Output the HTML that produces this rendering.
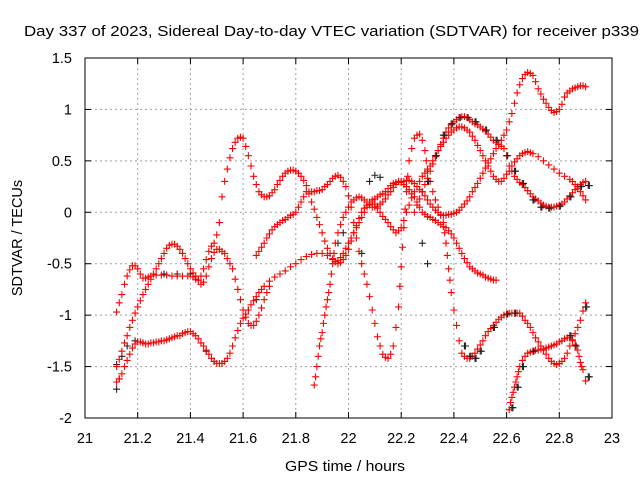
<!DOCTYPE html>
<html><head><meta charset="utf-8"><style>
body{margin:0;background:#fff;}
svg{display:block;font-family:"Liberation Sans",sans-serif;}
</style></head><body>
<svg id="chart" width="640" height="480" viewBox="0 0 640 480" xmlns="http://www.w3.org/2000/svg">
<rect width="640" height="480" fill="#fff"/>
<text x="24" y="36" font-size="14.5" fill="#000" textLength="615" lengthAdjust="spacingAndGlyphs">Day 337 of 2023, Sidereal Day-to-day VTEC variation (SDTVAR) for receiver p339</text>
<text x="345" y="471" font-size="14.5" text-anchor="middle" textLength="120" lengthAdjust="spacingAndGlyphs">GPS time / hours</text>
<text x="0" y="0" font-size="14.5" text-anchor="middle" transform="translate(22,238) rotate(-90)">SDTVAR / TECUs</text>
<g id="grid"></g>
<g id="axes"></g>
<g id="marks"></g>
<rect x="85" y="58" width="527" height="360" fill="none" stroke="#000" stroke-width="1"/>
</svg>
<script>
const xTicks=[21,21.2,21.4,21.6,21.8,22,22.2,22.4,22.6,22.8,23];
const xTickLabels=["21","21.2","21.4","21.6","21.8","22","22.2","22.4","22.6","22.8","23"];
const yTicks=[1.5,1,0.5,0,-0.5,-1,-1.5,-2];
const yTickLabels=["1.5","1","0.5","0","-0.5","-1","-1.5","-2"];
const red1=[[21.12,-1.65],[21.13,-1.62],[21.14,-1.57],[21.15,-1.5],[21.16,-1.44],[21.17,-1.38],[21.18,-1.32],[21.19,-1.28],[21.2,-1.26],[21.21,-1.26],[21.22,-1.27],[21.23,-1.28],[21.24,-1.28],[21.25,-1.27],[21.26,-1.27],[21.27,-1.26],[21.28,-1.26],[21.29,-1.25],[21.3,-1.25],[21.31,-1.24],[21.32,-1.23],[21.33,-1.22],[21.34,-1.21],[21.35,-1.2],[21.36,-1.2],[21.37,-1.18],[21.38,-1.17],[21.39,-1.16],[21.4,-1.16],[21.41,-1.18],[21.42,-1.2],[21.43,-1.23],[21.44,-1.27],[21.45,-1.3],[21.46,-1.34],[21.47,-1.38],[21.48,-1.42],[21.49,-1.45],[21.5,-1.47],[21.51,-1.47],[21.52,-1.47],[21.53,-1.45],[21.54,-1.42],[21.55,-1.37],[21.56,-1.3],[21.57,-1.22],[21.58,-1.15],[21.59,-1.08],[21.6,-1.03],[21.61,-0.99],[21.62,-0.95],[21.63,-0.9],[21.64,-0.86],[21.65,-0.82],[21.66,-0.78],[21.67,-0.75],[21.68,-0.72],[21.7,-0.67],[21.72,-0.63],[21.74,-0.6],[21.76,-0.57],[21.78,-0.53],[21.8,-0.5],[21.82,-0.46],[21.84,-0.43],[21.86,-0.41],[21.88,-0.4],[21.9,-0.4],[21.92,-0.42],[21.94,-0.46],[21.95,-0.48],[21.96,-0.47],[21.97,-0.44],[21.98,-0.4],[21.99,-0.35],[22.0,-0.3],[22.01,-0.25],[22.02,-0.2],[22.03,-0.15],[22.04,-0.1],[22.05,-0.05],[22.06,0.0],[22.07,0.05],[22.08,0.08],[22.09,0.1],[22.1,0.08],[22.11,0.04],[22.12,0.0],[22.13,-0.04],[22.14,-0.07],[22.15,-0.1],[22.16,-0.14],[22.17,-0.17],[22.18,-0.2],[22.19,-0.18],[22.2,-0.15],[22.21,-0.08],[22.22,0.0],[22.23,0.07],[22.24,0.14],[22.25,0.2],[22.26,0.25],[22.27,0.3],[22.28,0.35],[22.29,0.38],[22.3,0.42],[22.31,0.45],[22.32,0.5],[22.33,0.55],[22.34,0.6],[22.35,0.64],[22.36,0.68],[22.37,0.72],[22.38,0.75],[22.39,0.78],[22.4,0.8],[22.41,0.82],[22.42,0.83],[22.43,0.83],[22.44,0.82],[22.45,0.8],[22.46,0.78],[22.47,0.74],[22.48,0.7],[22.49,0.65],[22.5,0.6],[22.51,0.55],[22.52,0.5],[22.53,0.45],[22.54,0.4],[22.55,0.35],[22.56,0.32],[22.57,0.3],[22.58,0.3],[22.59,0.33],[22.6,0.37],[22.61,0.4],[22.62,0.45],[22.63,0.49],[22.64,0.52],[22.65,0.55],[22.66,0.57],[22.67,0.58],[22.68,0.59],[22.69,0.58],[22.7,0.57],[22.72,0.54],[22.74,0.5],[22.76,0.46],[22.78,0.42],[22.8,0.38],[22.82,0.35],[22.84,0.32],[22.85,0.3],[22.86,0.27],[22.87,0.23],[22.88,0.2],[22.89,0.16],[22.9,0.12]];
const red2=[[21.12,-0.97],[21.13,-0.88],[21.14,-0.8],[21.15,-0.7],[21.16,-0.62],[21.17,-0.56],[21.18,-0.52],[21.19,-0.52],[21.2,-0.55],[21.21,-0.6],[21.22,-0.64],[21.23,-0.64],[21.24,-0.63],[21.25,-0.62],[21.27,-0.61],[21.29,-0.61],[21.31,-0.61],[21.33,-0.62],[21.35,-0.62],[21.37,-0.62],[21.39,-0.62],[21.41,-0.63],[21.42,-0.65],[21.43,-0.66],[21.44,-0.62],[21.45,-0.55],[21.46,-0.46],[21.47,-0.38],[21.48,-0.33],[21.49,-0.3],[21.5,-0.22],[21.51,-0.1],[21.52,0.15],[21.53,0.3],[21.54,0.42],[21.55,0.53],[21.56,0.62],[21.57,0.68],[21.58,0.72],[21.59,0.73],[21.6,0.72],[21.61,0.64],[21.62,0.55],[21.63,0.45],[21.64,0.35],[21.65,0.27],[21.66,0.2],[21.67,0.17],[21.68,0.15],[21.69,0.15],[21.7,0.16],[21.71,0.19],[21.72,0.22],[21.73,0.27],[21.74,0.31],[21.75,0.35],[21.76,0.38],[21.77,0.4],[21.78,0.41],[21.79,0.41],[21.8,0.4],[21.81,0.38],[21.82,0.35],[21.83,0.31],[21.84,0.26],[21.85,0.18],[21.86,0.1],[21.87,0.03],[21.88,-0.05],[21.89,-0.12],[21.9,-0.2],[21.91,-0.28],[21.92,-0.35],[21.93,-0.4],[21.94,-0.45],[21.95,-0.48],[21.96,-0.5],[21.97,-0.49],[21.98,-0.46],[21.99,-0.42],[22.0,-0.36],[22.01,-0.28],[22.02,-0.2],[22.03,-0.13],[22.04,-0.06],[22.05,0.0],[22.06,0.04],[22.07,0.07],[22.08,0.1],[22.09,0.12],[22.1,0.13],[22.11,0.15],[22.12,0.17],[22.13,0.18],[22.14,0.2],[22.15,0.23],[22.16,0.26],[22.17,0.28],[22.18,0.29],[22.19,0.3],[22.2,0.3],[22.21,0.3],[22.22,0.31],[22.23,0.31],[22.24,0.3],[22.25,0.28],[22.26,0.25],[22.27,0.22],[22.28,0.2],[22.29,0.16],[22.3,0.12],[22.31,0.08],[22.32,0.05],[22.33,0.02],[22.34,0.0],[22.35,-0.03],[22.36,-0.03],[22.37,-0.03],[22.38,-0.02],[22.39,-0.02],[22.4,-0.01],[22.41,0.0],[22.42,0.02],[22.43,0.05],[22.44,0.08],[22.45,0.11],[22.46,0.15],[22.47,0.2],[22.48,0.24],[22.49,0.28],[22.5,0.33],[22.51,0.38],[22.52,0.43],[22.53,0.48],[22.54,0.52],[22.55,0.57],[22.56,0.62],[22.57,0.66],[22.58,0.7],[22.59,0.75],[22.6,0.8],[22.61,0.88],[22.62,0.96],[22.63,1.06],[22.64,1.16],[22.65,1.24],[22.66,1.3],[22.67,1.34],[22.68,1.36],[22.69,1.35],[22.7,1.33],[22.71,1.27],[22.72,1.2],[22.73,1.15],[22.74,1.1],[22.75,1.06],[22.76,1.02],[22.77,0.99],[22.78,0.97],[22.79,0.98],[22.8,1.0],[22.81,1.05],[22.82,1.12],[22.83,1.16],[22.84,1.18],[22.85,1.2],[22.86,1.21],[22.87,1.22],[22.88,1.23],[22.89,1.23],[22.9,1.22]];
const red3=[[21.12,-1.5],[21.13,-1.43],[21.14,-1.35],[21.15,-1.27],[21.16,-1.2],[21.17,-1.12],[21.18,-1.05],[21.19,-0.98],[21.2,-0.92],[21.21,-0.86],[21.22,-0.8],[21.23,-0.75],[21.24,-0.7],[21.25,-0.65],[21.26,-0.6],[21.27,-0.55],[21.28,-0.5],[21.29,-0.45],[21.3,-0.4],[21.31,-0.35],[21.32,-0.32],[21.33,-0.31],[21.34,-0.31],[21.35,-0.33],[21.36,-0.36],[21.37,-0.4],[21.38,-0.45],[21.39,-0.5],[21.4,-0.55],[21.41,-0.59],[21.42,-0.62],[21.43,-0.66],[21.44,-0.7],[21.45,-0.68],[21.46,-0.62],[21.47,-0.53],[21.48,-0.45],[21.49,-0.39],[21.5,-0.36],[21.51,-0.36],[21.52,-0.38],[21.53,-0.4],[21.54,-0.45],[21.55,-0.5],[21.56,-0.55],[21.57,-0.65],[21.58,-0.75],[21.59,-0.85],[21.6,-0.95],[21.61,-1.02],[21.62,-1.08],[21.63,-1.1],[21.64,-1.1],[21.65,-1.06],[21.66,-1.0],[21.67,-0.93],[21.68,-0.85],[21.69,-0.78],[21.7,-0.72]];
const red4=[[21.65,-0.42],[21.66,-0.38],[21.67,-0.34],[21.68,-0.3],[21.69,-0.25],[21.7,-0.21],[21.71,-0.17],[21.72,-0.14],[21.73,-0.12],[21.74,-0.1],[21.75,-0.08],[21.76,-0.07],[21.77,-0.05],[21.78,-0.03],[21.79,-0.02],[21.8,0.0],[21.81,0.05],[21.82,0.1],[21.83,0.15],[21.84,0.2],[21.85,0.2],[21.86,0.2],[21.87,0.2],[21.88,0.21],[21.89,0.21],[21.9,0.22],[21.91,0.25],[21.92,0.27],[21.93,0.3],[21.94,0.33],[21.95,0.35],[21.96,0.36],[21.97,0.34],[21.98,0.3],[21.99,0.25],[22.0,0.16],[22.01,0.05],[22.02,-0.1],[22.03,-0.25],[22.04,-0.38],[22.05,-0.5],[22.06,-0.6],[22.07,-0.7],[22.08,-0.82],[22.09,-0.95],[22.1,-1.08],[22.11,-1.21],[22.12,-1.3],[22.13,-1.38],[22.14,-1.41],[22.15,-1.42],[22.16,-1.38],[22.17,-1.3],[22.18,-1.12],[22.19,-0.92],[22.195,-0.72],[22.2,-0.53],[22.205,-0.34],[22.21,-0.15],[22.215,0.03],[22.22,0.2],[22.225,0.35],[22.23,0.5],[22.24,0.62],[22.25,0.72],[22.26,0.75],[22.27,0.76],[22.28,0.7],[22.29,0.6],[22.295,0.5],[22.3,0.4],[22.31,0.3],[22.32,0.2],[22.33,0.12],[22.34,0.05],[22.35,-0.02],[22.36,-0.1],[22.365,-0.2],[22.37,-0.3],[22.375,-0.42],[22.38,-0.55],[22.385,-0.66],[22.39,-0.78],[22.4,-0.95],[22.41,-1.1],[22.42,-1.25],[22.43,-1.37],[22.44,-1.4],[22.45,-1.42],[22.46,-1.42],[22.47,-1.4],[22.48,-1.37],[22.49,-1.33],[22.5,-1.29],[22.51,-1.25],[22.52,-1.2],[22.53,-1.16],[22.54,-1.13],[22.55,-1.1],[22.56,-1.07],[22.57,-1.04],[22.58,-1.02],[22.59,-1.0],[22.6,-0.99],[22.61,-0.98],[22.62,-0.98],[22.63,-0.98],[22.64,-0.98],[22.65,-0.98],[22.66,-1.01],[22.67,-1.05],[22.68,-1.08],[22.69,-1.12],[22.7,-1.17],[22.71,-1.22],[22.72,-1.26],[22.73,-1.3],[22.74,-1.34],[22.75,-1.38],[22.76,-1.42],[22.77,-1.45],[22.78,-1.47],[22.79,-1.48],[22.8,-1.47],[22.81,-1.45],[22.82,-1.42],[22.83,-1.37],[22.84,-1.3],[22.85,-1.24],[22.86,-1.18],[22.87,-1.12],[22.88,-1.05],[22.89,-0.96],[22.9,-0.88]];
const red5=[[21.87,-1.68],[21.875,-1.6],[21.88,-1.5],[21.885,-1.4],[21.89,-1.3],[21.895,-1.23],[21.9,-1.17],[21.905,-1.08],[21.91,-1.0],[21.915,-0.92],[21.92,-0.85],[21.925,-0.78],[21.93,-0.7],[21.935,-0.6],[21.94,-0.5],[21.945,-0.4],[21.95,-0.3],[21.96,-0.2],[21.97,-0.12],[21.98,-0.05],[21.99,0.0],[22.0,0.05],[22.01,0.1],[22.02,0.12],[22.03,0.14],[22.04,0.15],[22.05,0.14],[22.06,0.12],[22.07,0.1],[22.08,0.07],[22.09,0.05],[22.1,0.05],[22.11,0.06],[22.12,0.08],[22.13,0.1],[22.14,0.13],[22.15,0.17],[22.16,0.2],[22.17,0.24],[22.18,0.27],[22.19,0.3],[22.2,0.29],[22.21,0.27],[22.22,0.25],[22.23,0.22],[22.24,0.18],[22.25,0.15],[22.26,0.1],[22.27,0.05],[22.28,0.0],[22.29,-0.02],[22.3,-0.04],[22.31,-0.05],[22.32,-0.07],[22.33,-0.08],[22.34,-0.1],[22.35,-0.12],[22.36,-0.14],[22.37,-0.15],[22.38,-0.18],[22.39,-0.21],[22.4,-0.25],[22.41,-0.3],[22.42,-0.35],[22.43,-0.4],[22.44,-0.45],[22.45,-0.49],[22.46,-0.53],[22.47,-0.55],[22.48,-0.57],[22.49,-0.59],[22.5,-0.6],[22.51,-0.61],[22.52,-0.63],[22.53,-0.64],[22.54,-0.65],[22.55,-0.66],[22.56,-0.66]];
const red6=[[22.61,-1.92],[22.615,-1.85],[22.62,-1.8],[22.625,-1.75],[22.63,-1.7],[22.635,-1.65],[22.64,-1.6],[22.645,-1.55],[22.65,-1.5],[22.66,-1.44],[22.67,-1.4],[22.68,-1.37],[22.69,-1.36],[22.7,-1.35],[22.71,-1.34],[22.72,-1.34],[22.73,-1.33],[22.74,-1.33],[22.75,-1.32],[22.76,-1.31],[22.77,-1.3],[22.78,-1.29],[22.79,-1.28],[22.8,-1.26],[22.81,-1.25],[22.82,-1.23],[22.83,-1.22],[22.84,-1.22],[22.85,-1.25],[22.86,-1.29],[22.87,-1.34],[22.875,-1.4],[22.88,-1.46],[22.885,-1.5],[22.89,-1.53],[22.9,-1.64]];
const red7=[[22.25,0.0],[22.26,0.07],[22.27,0.13],[22.28,0.2],[22.29,0.27],[22.3,0.33],[22.31,0.4],[22.32,0.47],[22.33,0.54],[22.34,0.6],[22.35,0.66],[22.36,0.72],[22.37,0.78],[22.38,0.82],[22.39,0.85],[22.4,0.88],[22.41,0.9],[22.42,0.92],[22.43,0.93],[22.44,0.93],[22.45,0.92],[22.46,0.9],[22.47,0.88],[22.48,0.86],[22.49,0.85],[22.5,0.83],[22.51,0.81],[22.52,0.79],[22.53,0.76],[22.54,0.73],[22.55,0.7],[22.56,0.68],[22.57,0.66],[22.58,0.64],[22.59,0.62],[22.6,0.55],[22.61,0.45],[22.62,0.4],[22.63,0.35],[22.64,0.32],[22.65,0.29],[22.66,0.27],[22.67,0.24],[22.68,0.21],[22.69,0.18],[22.7,0.15],[22.71,0.13],[22.72,0.11],[22.73,0.09],[22.74,0.07],[22.75,0.06],[22.76,0.05],[22.77,0.05],[22.78,0.05],[22.79,0.06],[22.8,0.07],[22.81,0.08],[22.82,0.1],[22.83,0.13],[22.84,0.16],[22.85,0.19],[22.86,0.22],[22.87,0.25],[22.88,0.27],[22.89,0.29],[22.9,0.3]];
const black1=[[22.3,0.3],[22.33,0.55],[22.36,0.75],[22.39,0.86],[22.42,0.92],[22.45,0.92],[22.48,0.88],[22.52,0.8],[22.56,0.7],[22.6,0.55],[22.63,0.4],[22.66,0.28],[22.7,0.12],[22.73,0.05],[22.76,0.04],[22.8,0.06],[22.84,0.15],[22.88,0.25],[22.91,0.26]];
const black2=[[21.12,-1.72],[21.13,-1.62],[21.12,-1.48],[21.14,-1.4],[21.16,-1.3],[21.19,-1.25],[21.22,-1.27],[21.46,-1.35],[21.49,-1.45],[21.52,-1.47],[21.62,-0.95],[21.65,-0.85],[21.3,-0.6],[21.35,-0.6],[21.4,-0.6]];
const black3=[[22.44,-1.3],[22.46,-1.4],[22.48,-1.42],[22.5,-1.35],[22.55,-1.12],[22.6,-0.99],[22.63,-0.98],[22.62,-1.9],[22.64,-1.7],[22.66,-1.5],[22.7,-1.35],[22.84,-1.2],[22.86,-1.3],[22.9,-0.92],[22.91,-1.6]];
const black4=[[22.08,0.3],[22.1,0.36],[22.12,0.34],[22.28,-0.3],[22.3,-0.5],[22.05,-0.4],[22.15,0.2],[21.96,-0.3],[21.98,-0.2]];
const xMin=21,xMax=23,yMin=-2,yMax=1.5,L=85,R=612,T=58,B=418;
function sx(v){return L+(v-xMin)/(xMax-xMin)*(R-L);}
function sy(v){return B-(v-yMin)/(yMax-yMin)*(B-T);}
const NS="http://www.w3.org/2000/svg";
const grid=document.getElementById('grid'),axes=document.getElementById('axes'),marks=document.getElementById('marks');
function mk(tag,attrs,parent){const e=document.createElementNS(NS,tag);for(const k in attrs)e.setAttribute(k,attrs[k]);parent.appendChild(e);return e;}
xTicks.forEach((t,i)=>{const x=sx(t);
 if(i>0&&i<xTicks.length-1){const g=mk('line',{x1:x,y1:T,x2:x,y2:B,stroke:'#a0a0a0','stroke-dasharray':'2,3'},grid);}
 mk('line',{x1:x,y1:B,x2:x,y2:B-6,stroke:'#000'},axes);mk('line',{x1:x,y1:T,x2:x,y2:T+6,stroke:'#000'},axes);
 const tx=mk('text',{x:x,y:443,'font-size':'14.5','text-anchor':'middle'},axes);tx.textContent=xTickLabels[i];
 
 });
yTicks.forEach((t,i)=>{const y=sy(t);
 if(i>0&&i<yTicks.length-1){const g=mk('line',{x1:L,y1:y,x2:R,y2:y,stroke:'#a0a0a0','stroke-dasharray':'2,3'},grid);}
 mk('line',{x1:L,y1:y,x2:L+6,y2:y,stroke:'#000'},axes);mk('line',{x1:R,y1:y,x2:R-6,y2:y,stroke:'#000'},axes);
 const tx=mk('text',{x:72,y:y+5,'font-size':'14.5','text-anchor':'end'},axes);tx.textContent=yTickLabels[i];
 
 });
function plus(d,color,name){const x=sx(d[0]),y=sy(d[1]);
 const p=mk('path',{d:`M${x-3.5},${y}H${x+3.5}M${x},${y-3.5}V${y+3.5}`,stroke:color,'stroke-width':'1.1',fill:'none'},marks);
 
 }
[black1,black2,black3,black4].forEach(s=>s.forEach(d=>plus(d,'#222','black-point')));
[red1,red2,red3,red4,red5,red6,red7].forEach(s=>s.forEach(d=>plus(d,'#ff0000','red-point')));
[black1,black3].forEach(s=>s.forEach(d=>plus([d[0]+0.004,d[1]],'#222','black-point')));
</script>
</body></html>
